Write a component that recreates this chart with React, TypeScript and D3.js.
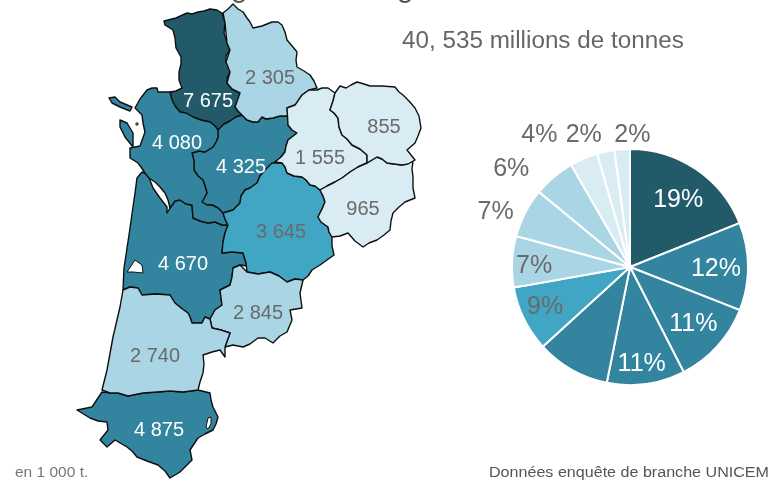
import React from 'react'
import * as d3 from 'd3'

const width = 769
const height = 481

type Pt = [number, number]

const regionNames = ['Gironde-nord', 'Vendee-Poitou', 'Charente-Maritime', 'Charente', 'Dordogne', 'Gironde', 'Lot', 'Landes', 'Vienne', 'Haute-Vienne', 'Correze', 'Creuse']

// tonnages, en 1 000 t.
const tonnages = [7675, 4875, 4670, 4325, 4080, 3645, 2845, 2740, 2305, 1555, 965, 855]

const deuxSevres: Pt[] = [[164, 21], [176, 18], [187, 13], [192, 14], [198, 12], [204, 11], [210, 9], [217, 10], [222, 13], [225, 23], [224, 33], [227, 43], [230, 50], [226, 56], [226, 62], [230, 66], [230, 72], [227, 78], [227, 83], [232, 89], [240, 93], [238, 100], [235, 107], [242, 115], [236, 117], [230, 121], [224, 124], [218, 130], [215, 126], [210, 122], [201, 120], [193, 117], [186, 113], [180, 112], [175, 106], [172, 100], [170, 92], [176, 91], [182, 88], [179, 80], [179, 72], [181, 64], [181, 57], [176, 48], [175, 38], [173, 30], [165, 25]]
const vienne: Pt[] = [[223, 13], [228, 9], [233, 4], [238, 9], [243, 12], [247, 18], [250, 22], [253, 28], [262, 26], [272, 22], [278, 22], [282, 25], [285, 32], [287, 40], [293, 47], [297, 52], [296, 60], [297, 67], [304, 71], [310, 75], [314, 81], [317, 88], [309, 90], [302, 95], [299, 101], [295, 105], [287, 108], [288, 116], [280, 116], [273, 118], [266, 119], [262, 117], [258, 122], [253, 122], [247, 120], [242, 115], [238, 111], [235, 107], [240, 93], [232, 89], [227, 83], [230, 72], [226, 62], [230, 50], [227, 43], [225, 23]]
const hauteVienne: Pt[] = [[287, 108], [295, 105], [302, 95], [309, 90], [317, 90], [322, 88], [328, 88], [335, 93], [333, 101], [330, 110], [334, 113], [338, 118], [339, 127], [342, 135], [347, 139], [352, 145], [360, 149], [367, 155], [367, 163], [358, 167], [350, 172], [342, 178], [335, 182], [327, 186], [320, 190], [315, 186], [310, 185], [306, 180], [302, 177], [294, 176], [287, 173], [285, 167], [282, 163], [275, 162], [281, 157], [285, 152], [286, 146], [288, 140], [297, 133], [292, 130], [288, 125]]
const creuse: Pt[] = [[335, 93], [340, 86], [346, 88], [351, 85], [357, 82], [364, 84], [370, 86], [382, 86], [395, 87], [399, 92], [403, 95], [409, 101], [415, 108], [419, 116], [421, 128], [418, 136], [415, 143], [407, 150], [411, 155], [415, 160], [408, 164], [402, 165], [394, 164], [387, 163], [382, 159], [377, 157], [367, 163], [367, 155], [360, 149], [352, 145], [347, 139], [342, 135], [339, 127], [338, 118], [334, 113], [330, 110], [333, 101]]
const correze: Pt[] = [[377, 157], [382, 159], [387, 163], [394, 164], [402, 165], [413, 161], [412, 169], [413, 177], [413, 188], [415, 198], [405, 202], [399, 207], [393, 213], [391, 221], [390, 230], [384, 235], [377, 240], [369, 243], [363, 247], [355, 241], [348, 233], [340, 236], [332, 237], [329, 232], [328, 227], [321, 222], [318, 217], [322, 209], [325, 202], [323, 196], [320, 190], [327, 186], [335, 182], [342, 178], [350, 172], [358, 167], [367, 163]]
const dordogne: Pt[] = [[272, 163], [282, 163], [285, 167], [287, 173], [294, 176], [302, 177], [306, 180], [310, 185], [315, 186], [320, 190], [323, 196], [325, 202], [322, 209], [318, 217], [321, 222], [328, 227], [329, 232], [332, 237], [332, 246], [334, 255], [327, 260], [320, 265], [312, 270], [308, 276], [303, 280], [295, 279], [287, 282], [279, 276], [270, 272], [258, 274], [247, 272], [246, 263], [243, 253], [232, 252], [222, 253], [223, 242], [225, 233], [228, 225], [225, 219], [223, 213], [233, 210], [240, 203], [241, 196], [245, 190], [250, 188], [257, 183], [260, 176], [265, 170]]
const charente: Pt[] = [[218, 130], [224, 124], [230, 121], [236, 117], [242, 115], [247, 120], [253, 122], [258, 122], [262, 117], [266, 119], [273, 118], [280, 116], [288, 116], [288, 125], [292, 130], [297, 133], [288, 140], [286, 146], [285, 152], [281, 157], [275, 162], [265, 170], [260, 176], [257, 183], [250, 188], [245, 190], [241, 196], [240, 203], [233, 210], [223, 213], [218, 208], [212, 205], [207, 205], [202, 202], [207, 193], [205, 186], [203, 180], [198, 176], [194, 170], [194, 161], [192, 153], [199, 151], [205, 152], [213, 147], [216, 142], [218, 137]]
const charenteMaritime: Pt[] = [[135, 108], [140, 99], [147, 90], [152, 88], [157, 88], [158, 92], [170, 92], [172, 100], [175, 106], [180, 112], [186, 113], [193, 117], [201, 120], [210, 122], [215, 126], [218, 130], [218, 137], [216, 142], [213, 147], [205, 152], [199, 151], [192, 153], [194, 161], [194, 170], [198, 176], [203, 180], [205, 186], [207, 193], [202, 202], [207, 205], [212, 205], [218, 208], [223, 213], [225, 219], [228, 225], [222, 225], [215, 222], [208, 223], [200, 221], [193, 218], [192, 205], [186, 204], [180, 200], [175, 201], [170, 208], [168, 200], [165, 193], [160, 187], [155, 182], [149, 178], [145, 173], [141, 167], [138, 163], [130, 158], [130, 148], [135, 147], [140, 146], [145, 132], [143, 123], [142, 115]]
const oleron: Pt[] = [[120, 120], [127, 123], [133, 133], [133, 147], [125, 137], [120, 127]]
const re: Pt[] = [[109, 98], [115, 97], [120, 102], [132, 107], [130, 111], [120, 107], [112, 103]]
const aix: Pt[] = [[136, 123], [138, 123], [138, 125], [136, 125]]
const gironde: Pt[] = [[142, 172], [148, 175], [153, 188], [160, 198], [167, 207], [167, 213], [170, 208], [175, 201], [180, 200], [186, 204], [192, 205], [193, 218], [200, 221], [208, 223], [215, 222], [222, 225], [228, 225], [225, 233], [223, 242], [222, 253], [232, 252], [243, 253], [246, 263], [247, 266], [240, 265], [233, 268], [232, 277], [230, 285], [220, 290], [221, 298], [222, 305], [215, 310], [210, 319], [205, 317], [202, 323], [192, 323], [190, 317], [188, 313], [181, 308], [175, 303], [170, 295], [156, 294], [142, 295], [138, 288], [130, 287], [123, 290], [124, 268], [129, 235], [135, 193], [137, 178]]
const arcachon: Pt[] = [[127, 272], [135, 260], [142, 265], [143, 273], [133, 272]]
const landes: Pt[] = [[123, 290], [130, 287], [138, 288], [142, 295], [156, 294], [170, 295], [175, 303], [181, 308], [188, 313], [190, 317], [192, 323], [202, 323], [205, 317], [210, 319], [212, 328], [221, 330], [230, 333], [225, 347], [225, 357], [220, 350], [212, 352], [203, 355], [204, 364], [203, 373], [200, 382], [198, 390], [183, 392], [170, 391], [157, 392], [143, 393], [128, 396], [118, 393], [110, 393], [102, 390], [107, 370], [113, 337], [120, 307]]
const lotEtGaronne: Pt[] = [[210, 319], [215, 310], [222, 305], [221, 298], [220, 290], [230, 285], [232, 277], [233, 268], [240, 265], [247, 272], [258, 274], [270, 272], [279, 276], [287, 282], [295, 279], [303, 280], [300, 293], [302, 308], [290, 310], [292, 320], [287, 332], [280, 336], [273, 343], [265, 338], [258, 338], [250, 344], [243, 347], [233, 345], [225, 347], [230, 333], [221, 330], [212, 328]]
const pyrenees: Pt[] = [[102, 392], [110, 393], [118, 393], [128, 396], [143, 393], [157, 392], [170, 391], [183, 392], [198, 390], [210, 393], [211, 400], [213, 407], [218, 417], [216, 424], [213, 430], [205, 434], [198, 438], [194, 444], [190, 450], [192, 460], [186, 466], [180, 472], [170, 478], [165, 471], [158, 465], [147, 461], [137, 457], [132, 451], [127, 447], [115, 440], [107, 447], [100, 440], [108, 430], [107, 422], [98, 421], [90, 418], [77, 410], [92, 407]]
const enclave: Pt[] = [[208, 418], [211, 417], [211, 424], [208, 429], [206, 427]]

const regionShapes: Pt[][][] = [[deuxSevres], [pyrenees], [gironde], [charente], [charenteMaritime, oleron, re], [dordogne], [lotEtGaronne], [landes], [vienne], [hauteVienne], [correze], [creuse]]
const whiteHoles: Pt[][] = [arcachon, enclave, aix]
const labelAnchors: Pt[] = [[208, 107], [159, 436], [183, 270], [241, 173], [177, 149], [281, 238], [258, 319], [155, 362], [270, 84], [320, 164], [363, 215], [384, 133]]

// parts du camembert : memes tonnages, du plus grand au plus petit
const pieLabels = ['19%', '12%', '11%', '11%', '', '9%', '7%', '7%', '6%', '4%', '2%', '2%']
const pieLabelRadius = [84, 86, 84, 96, 0, 93, 96, 146, 155, 162, 142, 134]
const pieLabelAngle = [35, 90, 131, 173, 0, 246, 272, 293, 310, 326, 341, 1]

const colour = d3.scaleThreshold<number, string>()
  .domain([2000, 3000, 4000, 7000])
  .range(['#d9ecf3', '#a9d5e4', '#40a6c4', '#31849f', '#215a6b'])

const textColour = (v: number) => (v >= 4000 ? '#ffffff' : '#6a6a6a')

const projection = d3.geoIdentity()
const mapPath = d3.geoPath(projection)
const ring = (pts: Pt[]) => ({ type: 'Polygon', coordinates: [[...pts, pts[0]]] }) as any

const pieCx = 630
const pieCy = 267
const pieRadius = 118

const App = () => {
  const slices = d3.pie<number>().sort(null).value(d => d)(tonnages)
  const arc = d3.arc<d3.PieArcDatum<number>>().innerRadius(0).outerRadius(pieRadius)

  return (
    <svg width={width} height={height} style={{ position: 'absolute', left: 0, top: 0 }} fontFamily="'Liberation Sans', Arial, sans-serif">
      <defs>
        <filter id="soft" x="-5%" y="-5%" width="110%" height="110%">
          <feGaussianBlur stdDeviation="0.6" />
        </filter>
      </defs>
      <g filter="url(#soft)">
        <text x={231} y={-3} fontSize={30} fill="#555">g</text>
        <text x={397} y={-3} fontSize={30} fill="#555">g</text>

        <g stroke="#111" strokeWidth={1.4} strokeLinejoin="round">
          {regionShapes.map((shapes, i) => shapes.map((pts, j) => (
            <path key={regionNames[i] + j} d={mapPath(ring(pts)) ?? ''} fill={colour(tonnages[i])} />
          )))}
          {whiteHoles.map((pts, i) => (
            <path key={i} d={mapPath(ring(pts)) ?? ''} fill="#fff" strokeWidth={1} />
          ))}
        </g>

        <g fontSize={20} textAnchor="middle">
          {tonnages.map((v, i) => (
            <text key={i} x={labelAnchors[i][0]} y={labelAnchors[i][1]} fill={textColour(v)}>
              {d3.format(',')(v).replace(',', ' ')}
            </text>
          ))}
        </g>

        <g transform={`translate(${pieCx},${pieCy})`}>
          {slices.map((s, i) => (
            <path key={i} d={arc(s) ?? ''} fill={colour(tonnages[i])} stroke="#fff" strokeWidth={2} />
          ))}
          <g fontSize={25} textAnchor="middle" dominantBaseline="central">
            {pieLabels.map((label, i) => {
              if (!label) return null
              const [x, y] = d3.pointRadial(pieLabelAngle[i] * Math.PI / 180, pieLabelRadius[i])
              const inside = pieLabelRadius[i] < pieRadius
              return (
                <text key={i} x={x} y={y} fill={inside ? textColour(tonnages[i]) : '#6a6a6a'}>{label}</text>
              )
            })}
          </g>
        </g>

        <text x={402} y={48} fontSize={24.25} fill="#666">40, 535 millions de tonnes</text>
        <text x={15} y={477} fontSize={15.5} fill="#777">en 1 000 t.</text>
        <text x={489} y={477} fontSize={14} fill="#555" textLength={280} lengthAdjust="spacingAndGlyphs">Données enquête de branche UNICEM</text>
      </g>
    </svg>
  )
}

export default App
